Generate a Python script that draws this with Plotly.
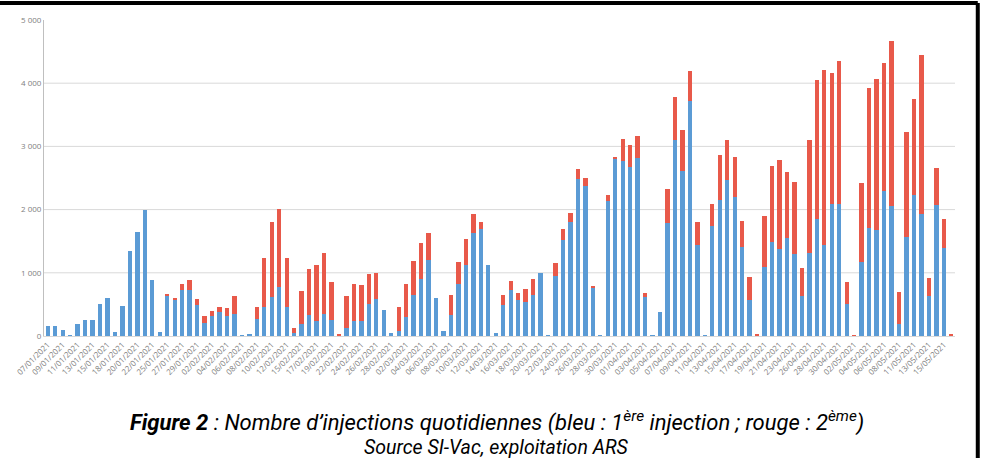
import pandas as pd
import plotly.graph_objects as go

# Dates present in the source (some days absent)
start_date = "2021-01-07"
end_date = "2021-05-16"
missing_dates = ["2021-01-16", "2021-01-23", "2021-01-30", "2021-01-31",
                 "2021-02-13", "2021-02-20", "2021-04-25", "2021-05-09"]

# 1st-injection values and totals (1st + 2nd)
first_dose = [160, 160, 100, 10, 190, 247, 257, 504, 604, 68,
              478, 1344, 1648, 2000, 882, 68, 635, 572, 735, 724,
              488, 205, 320, 383, 321, 353, 10, 26, 274, 458,
              616, 779, 458, 47, 184, 326, 242, 345, 258, 10,
              132, 242, 242, 511, 590, 405, 42, 79, 300, 652,
              897, 1201, 608, 79, 336, 823, 1127, 1626, 1694, 1127,
              52, 488, 729, 572, 545, 645, 1002, 10, 944, 1521,
              1809, 2480, 2380, 760, 10, 2134, 2795, 2763, 2674, 2811,
              624, 10, 383, 1783, 3104, 2617, 3723, 1437, 10, 1741,
              2145, 2470, 2197, 1405, 572, 0, 1085, 1494, 1379, 1557,
              1300, 640, 1321, 1846, 1442, 2092, 2087, 509, 0, 1169,
              1709, 1678, 2297, 2061, 194, 1568, 2229, 1935, 635, 2071,
              1390, 0]
total_doses = [160, 160, 100, 10, 190, 247, 257, 504, 604, 68,
               478, 1344, 1648, 2000, 882, 68, 651, 588, 824, 887,
               588, 315, 399, 457, 437, 637, 10, 26, 458, 1242,
               1810, 2016, 1232, 132, 710, 1063, 1121, 1321, 853, 30,
               632, 826, 805, 984, 1000, 405, 42, 453, 816, 1187,
               1468, 1636, 608, 79, 655, 1170, 1537, 1935, 1804, 1127,
               52, 645, 876, 687, 750, 902, 1002, 10, 1148, 1688,
               1945, 2648, 2506, 786, 10, 2229, 2832, 3120, 3026, 3167,
               676, 10, 383, 2328, 3781, 3267, 4195, 1809, 10, 2082,
               2858, 3094, 2826, 1814, 928, 16, 1904, 2690, 2790, 2601,
               2438, 1080, 3104, 4054, 4211, 4169, 4347, 860, 10, 2423,
               3922, 4059, 4321, 4672, 692, 3235, 3749, 4447, 912, 2664,
               1846, 20]
second_dose = [t - f for t, f in zip(total_doses, first_dose)]

y_ticks = [0, 1000, 2000, 3000, 4000, 5000]
grid_values = [1000, 2000, 3000, 4000]

dates = [d for d in pd.date_range(start_date, end_date)
         if d.strftime("%Y-%m-%d") not in missing_dates]
categories = [d.strftime("%d/%m/%Y") for d in dates]
tick_labels = categories[::2]

BLUE = "#5B9BD5"
RED = "#E8594A"
CAPTION_FONT = "Roboto, sans-serif"

fig = go.Figure()
fig.add_bar(x=categories, y=first_dose, marker_color=BLUE, name="1ère injection",
            marker_line_width=0)
fig.add_bar(x=categories, y=second_dose, marker_color=RED, name="2ème injection",
            marker_line_width=0)

for g in grid_values:
    fig.add_shape(type="line", xref="paper", yref="y", x0=0, x1=1, y0=g, y1=g,
                  line=dict(color="#d9d9d9", width=1), layer="below")

# outer frame (top and right edges visible in the reference)
fig.add_shape(type="line", xref="paper", yref="paper", x0=-0.06, x1=1.025,
              y0=1.0536, y1=1.0536, line=dict(color="black", width=4))
fig.add_shape(type="line", xref="paper", yref="paper", x0=1.025, x1=1.025,
              y0=1.0536, y1=-0.45, line=dict(color="black", width=4))

fig.add_annotation(
    xref="paper", yref="paper", x=0.497, y=-0.27, xanchor="center", yanchor="middle",
    showarrow=False,
    text=("<b><i>Figure 2</i></b><i> : Nombre d’injections quotidiennes "
          "(bleu : 1<sup>ère</sup> injection ; rouge : 2<sup>ème</sup>)</i>"),
    font=dict(family=CAPTION_FONT, size=22, color="black"))
fig.add_annotation(
    xref="paper", yref="paper", x=0.497, y=-0.352, xanchor="center", yanchor="middle",
    showarrow=False,
    text="<i>Source SI-Vac, exploitation ARS</i>",
    font=dict(family=CAPTION_FONT, size=19.5, color="black"))

fig.update_layout(
    width=983, height=458,
    barmode="stack", bargap=0.42,
    showlegend=False,
    plot_bgcolor="white", paper_bgcolor="white",
    margin=dict(l=44, r=28, t=19.5, b=121.5),
    separators=", ",
    font=dict(family="Open Sans, sans-serif", color="#7f7f7f"),
    xaxis=dict(type="category", tickmode="array", tickvals=tick_labels,
               ticktext=tick_labels, tickangle=-45, tickfont=dict(size=8, color="#808080"),
               showline=True, linecolor="#d9d9d9", linewidth=1, ticks="", showgrid=False,
               automargin=False),
    yaxis=dict(range=[0, 5000], tickvals=y_ticks, tickformat=",d",
               tickfont=dict(size=8, color="#808080"), showgrid=False, automargin=False,
               showline=True, linecolor="#bfbfbf", linewidth=1, zeroline=False, ticks=""),
)

fig.write_html("out.html", config={"displayModeBar": False},
               post_script="document.body.style.margin='0px';")
